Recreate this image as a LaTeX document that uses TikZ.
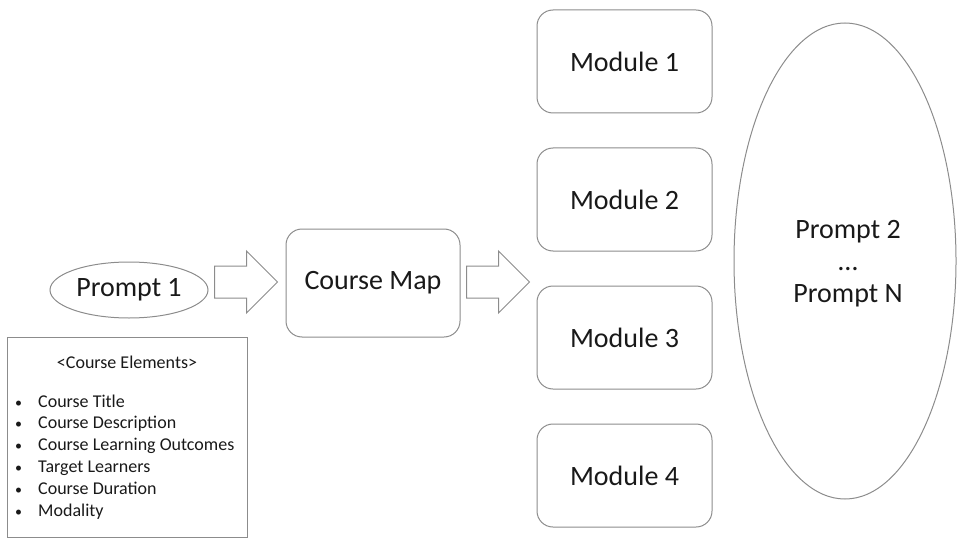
\documentclass[tikz,border=0pt]{standalone}
\usepackage{fontspec}
\setmainfont{Carlito}
\usetikzlibrary{shapes.geometric,shapes.arrows,calc}

\definecolor{edge}{RGB}{140,140,140}
\definecolor{ink}{RGB}{25,25,25}

\begin{document}
\begin{tikzpicture}[x=1pt,y=-1pt,
  every node/.style={text=ink,font=\fontsize{28}{32}\selectfont},
  oval/.style={ellipse,draw=edge,line width=1pt,inner sep=0pt},
  block/.style={rectangle,rounded corners=16pt,draw=edge,line width=1pt,
    minimum width=175pt,minimum height=103pt},
  bigarrow/.style={single arrow,draw=edge,line width=1pt,inner sep=15.5pt,
    single arrow head extend=15pt,minimum height=63pt,anchor=tail},
  item/.style={anchor=west,inner sep=0pt,text height=1.6ex,text depth=.3ex,
    font=\fontsize{18}{20}\selectfont}]
\useasboundingbox (0,0) rectangle (957,548);

\node[oval,minimum width=158pt,minimum height=56pt] (P1) at (129,290) {Prompt 1};
\node[block,minimum width=174pt,minimum height=108pt] (Map) at (373,283) {Course Map};

\node[bigarrow] (A1) at (214,282) {};
\node[bigarrow] (A2) at (466,282) {};

\foreach \i in {1,...,4}
  \node[block] (M\i) at (624.5,{61.5+138*(\i-1)}) {Module \i};

\node[oval,minimum width=222pt,minimum height=476pt] (PN) at (845,261) {};
\node[align=center] (PT) at (848,264) {Prompt 2\\…\\Prompt N};

\draw[edge,line width=1pt] (7,337) rectangle (247,537);
\node[font=\fontsize{18}{20}\selectfont,inner sep=0pt] (CE) at (127,362) {<Course Elements>};
\foreach \t [count=\i] in {Course Title,Course Description,Course Learning Outcomes,
    Target Learners,Course Duration,Modality}{
  \node[item] (L\i) at (38,{404+21.8*(\i-1)}) {\t};
  \node[item,font=\fontsize{14}{16}\selectfont] (B\i) at (15,{404+21.8*(\i-1)}) {•};
}

\end{tikzpicture}
\end{document}
